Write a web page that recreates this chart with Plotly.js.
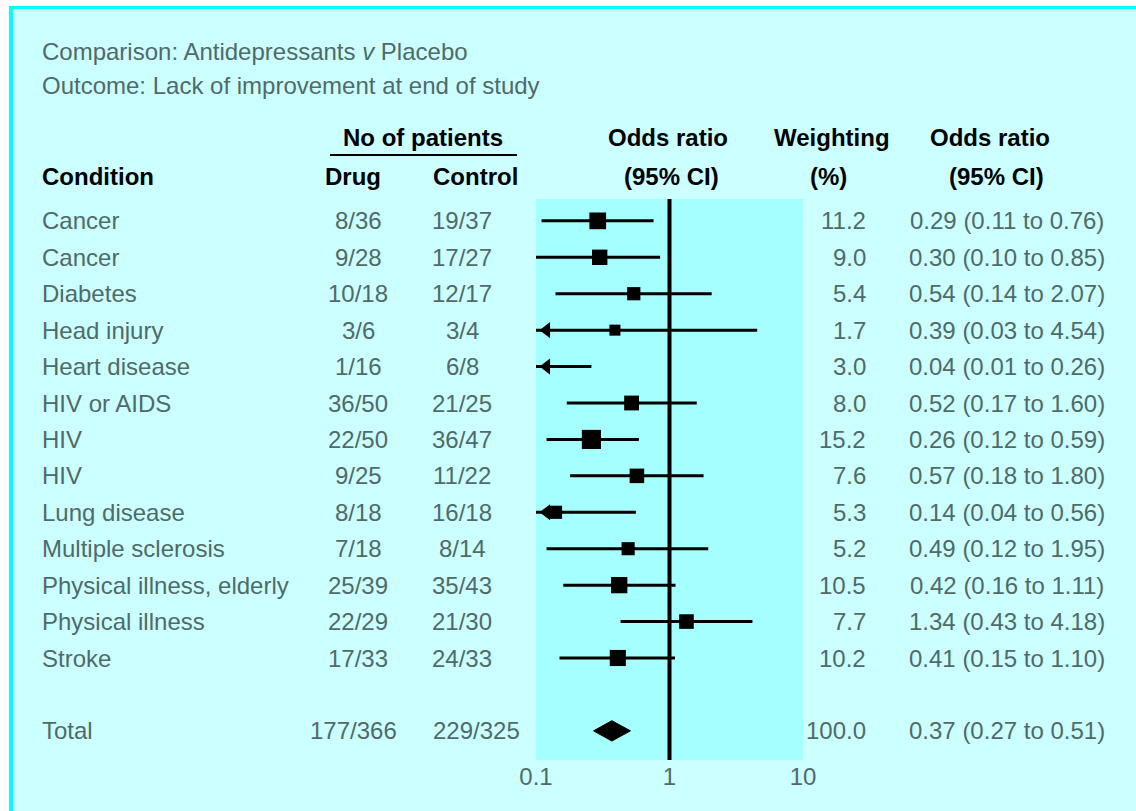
<!DOCTYPE html>
<html>
<head>
<meta charset="utf-8">
<script src="https://cdn.plot.ly/plotly-3.0.1.min.js"></script>
<style>html,body{margin:0;padding:0;background:#ccffff;}#chart{width:1136px;height:811px;}</style>
</head>
<body>
<div id="chart"></div>
<script>
// ---- data ----
const conditions = ['Cancer','Cancer','Diabetes','Head injury','Heart disease','HIV or AIDS','HIV','HIV','Lung disease','Multiple sclerosis','Physical illness, elderly','Physical illness','Stroke'];
const drugCounts = ['8/36','9/28','10/18','3/6','1/16','36/50','22/50','9/25','8/18','7/18','25/39','22/29','17/33'];
const controlCounts = ['19/37','17/27','12/17','3/4','6/8','21/25','36/47','11/22','16/18','8/14','35/43','21/30','24/33'];
const weights = [11.2,9.0,5.4,1.7,3.0,8.0,15.2,7.6,5.3,5.2,10.5,7.7,10.2];
const oddsRatios = [0.29,0.30,0.54,0.39,0.04,0.52,0.26,0.57,0.14,0.49,0.42,1.34,0.41];
const ciLow = [0.11,0.10,0.14,0.03,0.01,0.17,0.12,0.18,0.04,0.12,0.16,0.43,0.15];
const ciHigh = [0.76,0.85,2.07,4.54,0.26,1.60,0.59,1.80,0.56,1.95,1.11,4.18,1.10];
const totalLabel = 'Total';
const totalDrug = '177/366';
const totalControl = '229/325';
const totalWeight = 100.0;
const totalOR = 0.37, totalLow = 0.27, totalHigh = 0.51;
const tickValues = [0.1, 1, 10];
const tickLabels = ['0.1', '1', '10'];
const titleLine1 = 'Comparison: Antidepressants <i>v</i> Placebo';
const titleLine2 = 'Outcome: Lack of improvement at end of study';

// ---- layout helpers ----
const W = 1136, H = 811;
const px = x => x / W;
const py = y => 1 - y / H;
const totalRow = conditions.length + 1;
const FONT = 'Liberation Sans, Arial, sans-serif';
const GRAY = '#4f6a6a';
const bodyFont = {family: FONT, size: 24, color: GRAY};
const headFont = {family: FONT, size: 24, color: '#000000'};

const rows = conditions.map((_, i) => i);

// CI lines
const ciX = [], ciY = [];
rows.forEach(i => { ciX.push(ciLow[i], ciHigh[i], null); ciY.push(i, i, null); });
const traces = [];
traces.push({x: ciX, y: ciY, mode: 'lines', line: {color: '#000', width: 3}, hoverinfo: 'skip', cliponaxis: true});
// squares sized by weight
traces.push({x: oddsRatios, y: rows, mode: 'markers', cliponaxis: true,
  marker: {symbol: 'square', color: '#000000', opacity: 1, size: weights.map(w => 10 + 0.6 * w), line: {width: 0}}});
// arrows for CIs running off the left edge
const clipRows = rows.filter(i => ciLow[i] < tickValues[0]);
traces.push({x: clipRows.map(() => tickValues[0] * 1.2), y: clipRows, mode: 'markers',
  marker: {symbol: 'triangle-left', color: '#000000', opacity: 1, size: 14}});
// total diamond
const dh = 0.28;
traces.push({x: [totalLow, totalOR, totalHigh, totalOR, totalLow],
  y: [totalRow, totalRow - dh, totalRow, totalRow + dh, totalRow],
  mode: 'lines', fill: 'toself', fillcolor: '#000000', line: {color: '#000', width: 1}});

const ann = [];
function t(text, x, y, anchor, font, yref) {
  ann.push({text: text, x: x, y: y, xref: 'paper', yref: yref || 'y', xanchor: anchor, yanchor: 'middle',
    showarrow: false, font: font});
}
const orText = (o, l, h) => o.toFixed(2) + ' (' + l.toFixed(2) + ' to ' + h.toFixed(2) + ')';
rows.forEach(i => {
  t(conditions[i], px(40), i, 'left', bodyFont);
  t(drugCounts[i], px(358), i, 'center', bodyFont);
  t(controlCounts[i], px(462), i, 'center', bodyFont);
  t(weights[i].toFixed(1), px(868), i, 'right', bodyFont);
  t(orText(oddsRatios[i], ciLow[i], ciHigh[i]), px(1007), i, 'center', bodyFont);
});
t(totalLabel, px(40), totalRow, 'left', bodyFont);
t(totalDrug, px(353), totalRow, 'center', bodyFont);
t(totalControl, px(476), totalRow, 'center', bodyFont);
t(totalWeight.toFixed(1), px(868), totalRow, 'right', bodyFont);
t(orText(totalOR, totalLow, totalHigh), px(1007), totalRow, 'center', bodyFont);

// titles
t(titleLine1, px(40), py(52), 'left', bodyFont, 'paper');
t(titleLine2, px(40), py(85), 'left', bodyFont, 'paper');
// headers
t('<b>No of patients</b>', px(423), py(137), 'center', headFont, 'paper');
t('<b>Condition</b>', px(40), py(176), 'left', headFont, 'paper');
t('<b>Drug</b>', px(353), py(176), 'center', headFont, 'paper');
t('<b>Control</b>', px(475), py(176), 'center', headFont, 'paper');
t('<b>Odds ratio</b>', px(668), py(137), 'center', headFont, 'paper');
t('<b>(95% CI)</b>', px(671), py(176), 'center', headFont, 'paper');
t('<b>Weighting</b>', px(832), py(137), 'center', headFont, 'paper');
t('<b>(%)</b>', px(828), py(176), 'center', headFont, 'paper');
t('<b>Odds ratio</b>', px(990), py(137), 'center', headFont, 'paper');
t('<b>(95% CI)</b>', px(996), py(176), 'center', headFont, 'paper');

const shapes = [
  {type: 'rect', xref: 'paper', yref: 'paper', x0: 0, x1: px(9), y0: 0, y1: 1, fillcolor: '#ffffff', line: {width: 0}},
  {type: 'rect', xref: 'paper', yref: 'paper', x0: px(9), x1: px(13), y0: 0, y1: py(6), fillcolor: '#00ffff', line: {width: 0}},
  {type: 'rect', xref: 'paper', yref: 'paper', x0: 0, x1: 1, y0: py(6), y1: 1, fillcolor: '#ffffff', line: {width: 0}},
  {type: 'rect', xref: 'paper', yref: 'paper', x0: px(9), x1: 1, y0: py(9), y1: py(6), fillcolor: '#00ffff', line: {width: 0}},
  {type: 'line', xref: 'paper', yref: 'paper', x0: px(330), x1: px(517), y0: py(155), y1: py(155), line: {color: '#000', width: 2}},
  {type: 'line', xref: 'x', yref: 'paper', x0: 1, x1: 1, y0: py(760), y1: py(199), line: {color: '#000', width: 4}}
];

const layout = {
  width: W, height: H,
  margin: {l: 0, r: 0, t: 0, b: 0, pad: 0},
  paper_bgcolor: '#ccffff', plot_bgcolor: '#a6ffff',
  showlegend: false,
  xaxis: {type: 'log', range: [-1, 1], domain: [px(536), px(803)], tickvals: tickValues, ticktext: tickLabels,
    showgrid: false, zeroline: false, showline: false, ticks: '', tickfont: bodyFont, fixedrange: true},
  yaxis: {range: [14.8, -0.6], domain: [py(760), py(199)], showgrid: false, zeroline: false, showline: false,
    showticklabels: false, ticks: '', fixedrange: true},
  annotations: ann,
  shapes: shapes
};
Plotly.newPlot('chart', traces, layout, {displayModeBar: false, staticPlot: true});
</script>
</body>
</html>
